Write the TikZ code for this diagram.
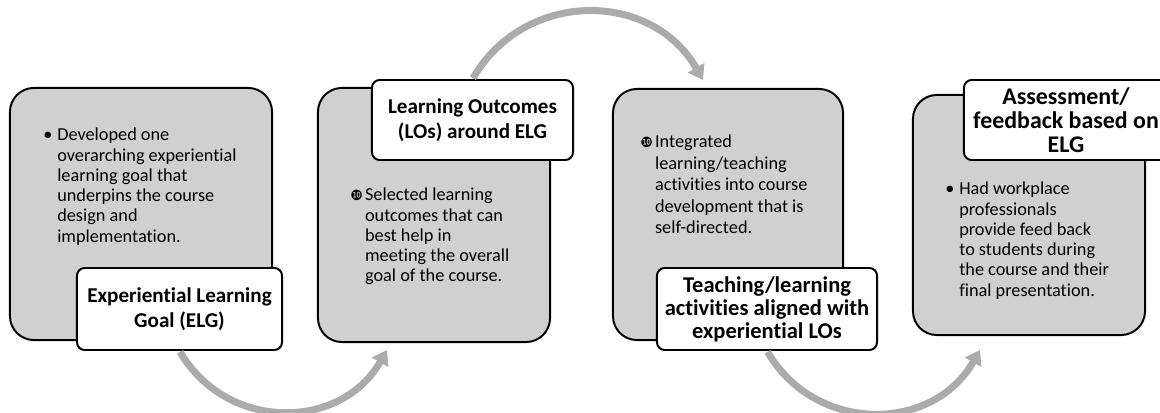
\documentclass[tikz,border=0pt]{standalone}
\usepackage{fontspec}
\setmainfont{Carlito}[Ligatures=NoCommon]
\newfontfamily\dejavu{DejaVu Sans}
\usetikzlibrary{arrows.meta}

\definecolor{boxgray}{HTML}{D0D0D0}
\definecolor{arrowgray}{HTML}{ABABAB}
\newcommand{\tenmark}{{\dejavu\fontsize{10}{10}\selectfont\symbol{"277F}}}

\tikzset{
  stagebox/.style={draw=black, fill=boxgray, line width=1.4pt, rounded corners=17pt},
  titlebox/.style={draw=black, fill=white, line width=1.4pt, rounded corners=5.5pt, align=center,
                   inner xsep=2pt, font=\bfseries\fontsize{15}{17.8}\selectfont},
  bodytext/.style={anchor=base west, inner sep=0pt, font=\fontsize{13}{14.4}\selectfont},
  flow/.style={draw=arrowgray, line width=5pt, -{Triangle[length=10pt,width=13pt]}, looseness=1.15, shorten <=0.7pt}
}

\begin{document}
\begin{tikzpicture}[x=0.025cm, y=-0.025cm]
  \useasboundingbox (0,0) rectangle (1160,413);

  %draw grey stage boxes
  \foreach \x/\y/\w/\h/\name in {141/214/6.55/6.3/b1, 434/215/5.8/6.35/b2, 728/214.5/5.75/6.275/b3, 1029/215/5.8/6.0/b4}{
    \node[stagebox, minimum width=\w cm, minimum height=\h cm] (\name) at (\x,\y) {};
  }

  %texts inside the boxes
  \node[bodytext] (t1) at (43,141) {\begin{tabular}[t]{@{}p{0.35cm}@{}l@{}}
    \textbullet & Developed one\\
     & overarching experiential\\
     & learning goal that\\
     & underpins the course\\
     & design and\\
     & implementation.
  \end{tabular}};

  \node[bodytext] (t2) at (350,201) {\begin{tabular}[t]{@{}p{0.37cm}@{}l@{}}
    \tenmark & Selected learning\\
     & outcomes that can\\
     & best help in\\
     & meeting the overall\\
     & goal of the course.
  \end{tabular}};

  \node[bodytext, font=\fontsize{13}{15.2}\selectfont] (t3) at (640,148) {\begin{tabular}[t]{@{}p{0.37cm}@{}l@{}}
    \tenmark & Integrated\\
     & learning/teaching\\
     & activities into course\\
     & development that is\\
     & self-directed.
  \end{tabular}};

  \node[bodytext] (t4) at (945,195) {\begin{tabular}[t]{@{}p{0.35cm}@{}l@{}}
    \textbullet & Had workplace\\
     & professionals\\
     & provide feed back\\
     & to students during\\
     & the course and their\\
     & final presentation.
  \end{tabular}};

  %title boxes
  \node[titlebox, minimum width=5.125cm, minimum height=2.05cm] (l1) at (179.5,309) {Experiential Learning\\Goal (ELG)};
  \node[titlebox, minimum width=5.025cm, minimum height=2.0cm] (l2) at (472.5,120) {Learning Outcomes\\(LOs) around ELG};
  \node[titlebox, minimum width=5.5cm, minimum height=2.05cm, font=\bfseries\fontsize{16}{16.4}\selectfont] (l3) at (767,309) {Teaching/learning\\activities aligned with\\experiential LOs};
  \node[titlebox, minimum width=5.1cm, minimum height=2.0cm, font=\bfseries\fontsize{17}{17.1}\selectfont] (l4) at (1066,120) {Assessment/\\feedback based on\\ELG};

  %curved arrows between the stages
  \coordinate (e1) at (387,350);
  \coordinate (e2) at (703,80);
  \coordinate (e3) at (980,350);
  \draw[flow] (l1.south) to[bend right=60] (e1);
  \draw[flow] (l2.north) to[bend left=60] (e2);
  \draw[flow] (l3.south) to[bend right=60] (e3);

\end{tikzpicture}
\end{document}
